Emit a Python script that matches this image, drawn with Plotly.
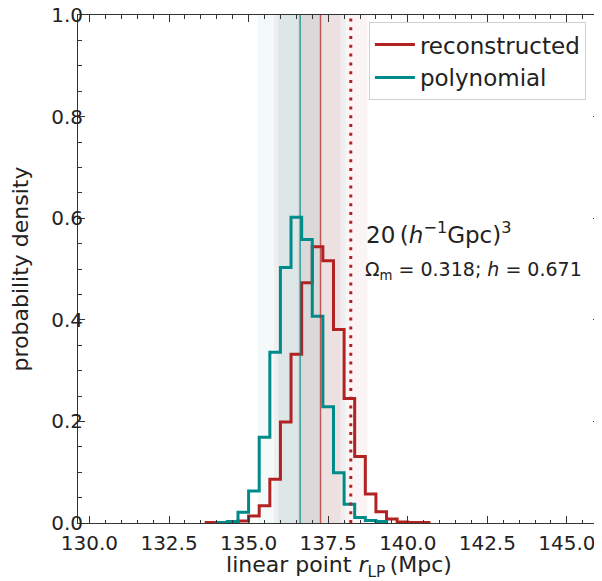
import plotly.graph_objects as go

# ---- data ----
recon_edges = [133.667, 134.0, 134.333, 134.667, 135.0, 135.333, 135.667, 136.0, 136.333,
               136.667, 137.0, 137.333, 137.667, 138.0, 138.333, 138.667, 139.0, 139.333,
               139.667, 140.0, 140.333, 140.667]
recon_density = [0.001, 0.001, 0.002, 0.004, 0.014, 0.034, 0.086, 0.199, 0.332, 0.473, 0.544,
                 0.516, 0.381, 0.245, 0.131, 0.057, 0.022, 0.008, 0.002, 0.001, 0.001]

poly_edges = [134.0, 134.333, 134.667, 135.0, 135.333, 135.667, 136.0, 136.333, 136.667,
              137.0, 137.333, 137.667, 138.0, 138.333, 138.667, 139.0, 139.333]
poly_density = [0.001, 0.003, 0.021, 0.063, 0.169, 0.336, 0.503, 0.602, 0.558, 0.407, 0.229,
                0.099, 0.037, 0.011, 0.005, 0.003]

recon_median = 137.26
recon_1sig = [136.55, 137.89]
recon_2sig = [135.80, 138.73]
poly_median = 136.62
poly_1sig = [135.93, 137.26]
poly_2sig = [135.29, 138.05]
reference_value = 138.21

x_range = [129.64, 146.04]
y_range = [0.0, 1.0]

RED = "#b22222"
TEAL = "#008b8b"
FONT = "DejaVu Sans"


def step_xy(edges, dens):
    xs = [edges[0]] + list(edges)
    ys = [0.0] + list(dens) + [0.0]
    return xs, ys


fig = go.Figure()

# shaded credible bands
shapes = []
for (lo, hi), col in [(poly_2sig, "rgba(0,139,139,0.045)"), (recon_2sig, "rgba(178,34,34,0.05)"),
                      (poly_1sig, "rgba(0,139,139,0.08)"), (recon_1sig, "rgba(178,34,34,0.07)")]:
    shapes.append(dict(type="rect", xref="x", yref="paper", x0=lo, x1=hi, y0=0, y1=1,
                       fillcolor=col, line=dict(width=0), layer="below"))
shapes.append(dict(type="line", xref="x", yref="paper", x0=poly_median, x1=poly_median, y0=0, y1=1,
                   line=dict(color="rgba(0,139,139,0.75)", width=1.5)))
shapes.append(dict(type="line", xref="x", yref="paper", x0=recon_median, x1=recon_median, y0=0, y1=1,
                   line=dict(color="rgba(178,34,34,0.7)", width=1.5)))
shapes.append(dict(type="line", xref="x", yref="paper", x0=reference_value, x1=reference_value, y0=0, y1=1,
                   line=dict(color=RED, width=3, dash="3px,5.8px")))

xs, ys = step_xy(recon_edges, recon_density)
fig.add_trace(go.Scatter(x=xs, y=ys, mode="lines", line=dict(color=RED, width=3, shape="hv"),
                         name="reconstructed"))
xs, ys = step_xy(poly_edges, poly_density)
fig.add_trace(go.Scatter(x=xs, y=ys, mode="lines", line=dict(color=TEAL, width=3, shape="hv"),
                         name="polynomial"))

fig.add_annotation(x=138.63, y=0.571, xref="x", yref="y", xanchor="left", yanchor="middle",
                   text="20\u2009(<i>h</i><sup>\u22121</sup>Gpc)<sup>3</sup>", showarrow=False,
                   font=dict(family=FONT, size=23, color="#222"))
fig.add_annotation(x=138.6, y=0.497, xref="x", yref="y", xanchor="left", yanchor="middle",
                   text="\u03a9<sub>m</sub> = 0.318; <i>h</i> = 0.671", showarrow=False,
                   font=dict(family=FONT, size=19, color="#222"))

axis_common = dict(showline=True, linecolor="#333", linewidth=1, mirror="ticks", ticks="inside",
                   tickcolor="#333", ticklen=7, tickwidth=1, showgrid=False, zeroline=False,
                   automargin=False, ticklabelposition="outside", ticklabeloverflow="allow",
                   tickfont=dict(family=FONT, size=20, color="#222"))

fig.update_xaxes(range=x_range, tickvals=[130, 132.5, 135, 137.5, 140, 142.5, 145],
                 ticktext=["130.0", "132.5", "135.0", "137.5", "140.0", "142.5", "145.0"],
                 minor=dict(dtick=0.5, tick0=130, ticks="inside", ticklen=3.5, tickcolor="#333"),
                 ticklabelstandoff=2,
                 title=dict(text="linear point <i>r</i><sub>LP</sub>\u2009(Mpc)",
                            font=dict(family=FONT, size=22, color="#222"), standoff=6),
                 **axis_common)
fig.update_yaxes(range=y_range, tickvals=[0, 0.2, 0.4, 0.6, 0.8, 1.0],
                 ticktext=["0.0", "0.2", "0.4", "0.6", "0.8", "1.0"],
                 minor=dict(dtick=0.05, tick0=0, ticks="inside", ticklen=3.5, tickcolor="#333"),
                 ticklabelstandoff=-10,
                 title=dict(text="probability density", font=dict(family=FONT, size=22, color="#222"),
                            standoff=16),
                 **axis_common)

# the page body adds an 8px offset, so the figure is 8px smaller than the window
fig.update_layout(width=594, height=573, margin=dict(l=70, r=2, t=7, b=58),
                  plot_bgcolor="white", paper_bgcolor="white", shapes=shapes,
                  font=dict(family=FONT, color="#222"),
                  legend=dict(x=0.973, y=0.986, xanchor="right", yanchor="top",
                              bgcolor="rgba(255,255,255,0.8)", bordercolor="#d0d0d0", borderwidth=1,
                              font=dict(family=FONT, size=23, color="#222"), traceorder="normal",
                              itemwidth=40, tracegroupgap=0))

fig.write_html("out.html")
